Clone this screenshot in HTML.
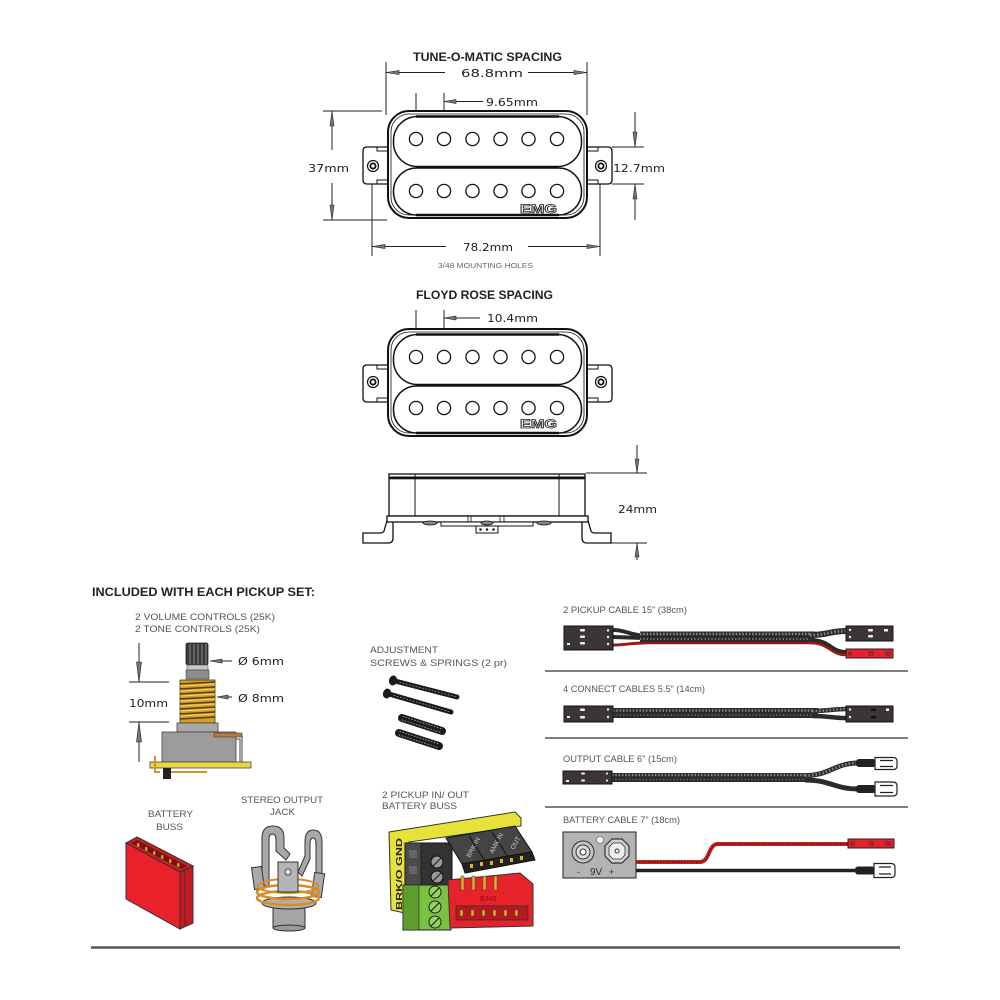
<!DOCTYPE html>
<html><head><meta charset="utf-8"><style>
html,body{margin:0;padding:0;background:#fff}
svg{display:block}
text{font-family:"Liberation Sans",sans-serif}
.d{font-family:"DejaVu Sans","Liberation Sans",sans-serif;font-size:11px;fill:#222}
.t{font-weight:bold;font-size:11.5px;fill:#222}
.s{font-size:9px;fill:#555}
.ln{stroke:#222;stroke-width:1;fill:none}
.ah{fill:#777;stroke:#222;stroke-width:.6}
</style></head><body>
<svg width="1000" height="1000" viewBox="0 0 1000 1000" xmlns="http://www.w3.org/2000/svg">
<rect width="1000" height="1000" fill="#fff"/>

<!-- ============ TUNE-O-MATIC ============ -->
<text x="413" y="61" class="t" textLength="149" lengthAdjust="spacingAndGlyphs">TUNE-O-MATIC SPACING</text>
<path class="ln" d="M386 62 V115 M587 62 V115 M386 72.5 H445 M528 72.5 H587"/>
<polygon class="ah" points="386,72.5 399,70.5 399,74.5"/>
<polygon class="ah" points="587,72.5 574,70.5 574,74.5"/>
<text x="461" y="77" class="d" textLength="62" lengthAdjust="spacingAndGlyphs">68.8mm</text>
<path class="ln" d="M416 93 V133 M444 93 V133 M444 101.5 H483"/>
<polygon class="ah" points="444,101.5 456,99.5 456,103.5"/>
<text x="486" y="106" class="d" textLength="52" lengthAdjust="spacingAndGlyphs">9.65mm</text>
<path class="ln" d="M323 111 H382 M323 220 H387 M332 111 V150 M332 183 V220"/>
<polygon class="ah" points="332,111 330,126 334,126"/>
<polygon class="ah" points="332,220 330,205 334,205"/>
<text x="308" y="172" class="d" textLength="41" lengthAdjust="spacingAndGlyphs">37mm</text>
<path class="ln" d="M612 147 H644 M612 184 H644 M635 112 V147 M635 184 V220"/>
<polygon class="ah" points="635,147 633,132 637,132"/>
<polygon class="ah" points="635,184 633,199 637,199"/>
<text x="613" y="172" class="d" textLength="52" lengthAdjust="spacingAndGlyphs">12.7mm</text>
<path class="ln" d="M372 172 V256 M600 172 V256 M372 246.5 H446 M528 246.5 H600"/>
<polygon class="ah" points="372,246.5 385,244.5 385,248.5"/>
<polygon class="ah" points="600,246.5 587,244.5 587,248.5"/>
<text x="463" y="251" class="d" textLength="50" lengthAdjust="spacingAndGlyphs">78.2mm</text>
<text x="438" y="268" font-size="7" fill="#666" textLength="95" lengthAdjust="spacingAndGlyphs">3/48 MOUNTING HOLES</text>

<g id="pk1">
<path d="M388 147 H367 Q363 147 363 151 V180 Q363 184 367 184 H388 Z" fill="#fff" stroke="#111" stroke-width="1.3"/>
<path d="M377 147 V151 H388 M377 184 V180 H388" fill="none" stroke="#111" stroke-width="1"/>
<path d="M587 147 H608 Q612 147 612 151 V180 Q612 184 608 184 H587 Z" fill="#fff" stroke="#111" stroke-width="1.3"/>
<path d="M598 147 V151 H587 M598 184 V180 H587" fill="none" stroke="#111" stroke-width="1"/>
<circle cx="373" cy="166" r="5.5" fill="#fff" stroke="#111" stroke-width="1.2"/>
<circle cx="373" cy="166" r="2.6" fill="none" stroke="#111" stroke-width="1.8"/>
<circle cx="601" cy="166" r="5.5" fill="#fff" stroke="#111" stroke-width="1.2"/>
<circle cx="601" cy="166" r="2.6" fill="none" stroke="#111" stroke-width="1.8"/>
<rect x="388" y="111" width="199" height="107" rx="21" fill="#fff" stroke="#111" stroke-width="2"/>
<rect x="391" y="114" width="193" height="101" rx="18" fill="none" stroke="#111" stroke-width="0.8"/>
<rect x="393.5" y="116.5" width="188" height="50" rx="24" fill="#fff" stroke="#111" stroke-width="1.5"/>
<rect x="393.5" y="168" width="188" height="47" rx="23" fill="#fff" stroke="#111" stroke-width="1.5"/>
<path d="M416 116.5 H559 M416 167.3 H559 M416 215 H559" stroke="#111" stroke-width="2.4"/>
<g fill="#fff" stroke="#111" stroke-width="1.3">
<circle cx="416" cy="139" r="6.6"/><circle cx="444" cy="139" r="6.6"/><circle cx="472.5" cy="139" r="6.6"/><circle cx="500.5" cy="139" r="6.6"/><circle cx="528.5" cy="139" r="6.6"/><circle cx="557" cy="139" r="6.6"/>
<circle cx="416" cy="191" r="6.6"/><circle cx="444" cy="191" r="6.6"/><circle cx="472.5" cy="191" r="6.6"/><circle cx="500.5" cy="191" r="6.6"/><circle cx="528.5" cy="191" r="6.6"/><circle cx="557" cy="191" r="6.6"/>
</g>
<text x="520" y="213" font-size="12" font-weight="bold" textLength="37" lengthAdjust="spacingAndGlyphs" fill="#fff" stroke="#222" stroke-width="0.8">EMG</text>
</g>

<!-- ============ FLOYD ROSE ============ -->
<text x="416" y="299" class="t" textLength="137" lengthAdjust="spacingAndGlyphs">FLOYD ROSE SPACING</text>
<path class="ln" d="M416 310 V350 M444 310 V350 M444 318 H480"/>
<polygon class="ah" points="444,318 456,316 456,320"/>
<text x="487" y="322" class="d" textLength="51" lengthAdjust="spacingAndGlyphs">10.4mm</text>

<g transform="translate(0,218)">
<path d="M388 147 H367 Q363 147 363 151 V180 Q363 184 367 184 H388 Z" fill="#fff" stroke="#111" stroke-width="1.3"/>
<path d="M377 147 V151 H388 M377 184 V180 H388" fill="none" stroke="#111" stroke-width="1"/>
<path d="M587 147 H608 Q612 147 612 151 V180 Q612 184 608 184 H587 Z" fill="#fff" stroke="#111" stroke-width="1.3"/>
<path d="M598 147 V151 H587 M598 184 V180 H587" fill="none" stroke="#111" stroke-width="1"/>
<circle cx="373" cy="164" r="5.5" fill="#fff" stroke="#111" stroke-width="1.2"/>
<circle cx="373" cy="164" r="2.6" fill="none" stroke="#111" stroke-width="1.8"/>
<circle cx="601" cy="164" r="5.5" fill="#fff" stroke="#111" stroke-width="1.2"/>
<circle cx="601" cy="164" r="2.6" fill="none" stroke="#111" stroke-width="1.8"/>
<rect x="388" y="111" width="199" height="107" rx="21" fill="#fff" stroke="#111" stroke-width="2"/>
<rect x="391" y="114" width="193" height="101" rx="18" fill="none" stroke="#111" stroke-width="0.8"/>
<rect x="393.5" y="116.5" width="188" height="50" rx="24" fill="#fff" stroke="#111" stroke-width="1.5"/>
<rect x="393.5" y="168" width="188" height="47" rx="23" fill="#fff" stroke="#111" stroke-width="1.5"/>
<path d="M416 116.5 H559 M416 167.3 H559 M416 215 H559" stroke="#111" stroke-width="2.4"/>
<g fill="#fff" stroke="#111" stroke-width="1.3">
<circle cx="416" cy="139" r="6.6"/><circle cx="444" cy="139" r="6.6"/><circle cx="472.5" cy="139" r="6.6"/><circle cx="500.5" cy="139" r="6.6"/><circle cx="528.5" cy="139" r="6.6"/><circle cx="557" cy="139" r="6.6"/>
<circle cx="416" cy="190" r="6.6"/><circle cx="444" cy="190" r="6.6"/><circle cx="472.5" cy="190" r="6.6"/><circle cx="500.5" cy="190" r="6.6"/><circle cx="528.5" cy="190" r="6.6"/><circle cx="557" cy="190" r="6.6"/>
</g>
<text x="520" y="210" font-size="12" font-weight="bold" textLength="37" lengthAdjust="spacingAndGlyphs" fill="#fff" stroke="#222" stroke-width="0.8">EMG</text>
</g>

<!-- side view -->
<rect x="389" y="474" width="196" height="42" fill="#fff" stroke="#111" stroke-width="1.3"/>
<rect x="389" y="476.5" width="196" height="2.8" fill="#111"/>
<path d="M415 474 V516 M559 474 V516" stroke="#111" stroke-width="1"/>
<path d="M388 517 L384 531 Q383 533 380 533 H363 V543 H388 Q393 543 393 538 V522 Z" fill="#fff" stroke="#111" stroke-width="1.3"/>
<path d="M587 517 L591 531 Q592 533 595 533 H611 V543 H587 Q582 543 582 538 V522 Z" fill="#fff" stroke="#111" stroke-width="1.3"/>
<rect x="387" y="516" width="201" height="6" fill="#fff" stroke="#111" stroke-width="1.3"/>
<path d="M468 516 V522 M471 516 V522 M500 516 V522 M504 516 V522" stroke="#111" stroke-width=".8"/>
<rect x="441" y="522" width="92" height="4" fill="#fff" stroke="#111" stroke-width="1"/>
<ellipse cx="430" cy="523" rx="7" ry="2" fill="#888" stroke="#111" stroke-width=".8"/>
<ellipse cx="544" cy="523" rx="7" ry="2" fill="#888" stroke="#111" stroke-width=".8"/>
<ellipse cx="487" cy="523" rx="6" ry="2" fill="#888" stroke="#111" stroke-width=".8"/>
<rect x="476" y="526" width="22" height="7" fill="#fff" stroke="#111" stroke-width="1"/>
<circle cx="480.5" cy="529.5" r="1.3" fill="#222"/><circle cx="487" cy="529.5" r="1.3" fill="#222"/><circle cx="493.5" cy="529.5" r="1.3" fill="#222"/>
<path class="ln" d="M637 445 V473 M586 473 H647 M611 543 H647 M637 543 V560"/>
<polygon class="ah" points="637,473 635,459 639,459"/>
<polygon class="ah" points="637,543 635,557 639,557"/>
<text x="618" y="513" class="d" textLength="39" lengthAdjust="spacingAndGlyphs">24mm</text>

<!-- ============ INCLUDED ============ -->
<text x="92" y="596" class="t" textLength="223" lengthAdjust="spacingAndGlyphs">INCLUDED WITH EACH PICKUP SET:</text>
<text x="135" y="620" class="s" font-size="9.5" textLength="140" lengthAdjust="spacingAndGlyphs">2 VOLUME CONTROLS (25K)</text>
<text x="135" y="632" class="s" font-size="9.5" textLength="125" lengthAdjust="spacingAndGlyphs">2 TONE CONTROLS (25K)</text>

<!-- pot -->
<path class="ln" d="M129 682 H169 M129 722 H169 M139 643 V682 M139 722 V762"/>
<polygon class="ah" points="139,682 136.5,662 141.5,662"/>
<polygon class="ah" points="139,722 136.5,742 141.5,742"/>
<text x="129" y="707" class="d" textLength="39" lengthAdjust="spacingAndGlyphs">10mm</text>
<rect x="186" y="643" width="22" height="22" rx="2" fill="#3a3a3a" stroke="#222" stroke-width=".8"/>
<path d="M190 644 V664 M194 644 V664 M198 644 V664 M202 644 V664 M206 644 V664" stroke="#8a8a8a" stroke-width="1"/>
<rect x="187" y="665" width="21" height="5" fill="#c8c8c8" stroke="#555" stroke-width=".6"/>
<rect x="186" y="670" width="23" height="9" fill="#8e8e8e" stroke="#444" stroke-width=".6"/>
<rect x="180" y="680" width="35" height="43" fill="#d3a12a" stroke="#4a3510" stroke-width=".8"/>
<path d="M180 684 L215 682 M180 689 L215 687 M180 694 L215 692 M180 699 L215 697 M180 704 L215 702 M180 709 L215 707 M180 714 L215 712 M180 719 L215 717" stroke="#5a3e0a" stroke-width="1.4"/>
<path d="M180 686 L215 684 M180 691 L215 689 M180 696 L215 694 M180 701 L215 699 M180 706 L215 704 M180 711 L215 709 M180 716 L215 714" stroke="#f3d56a" stroke-width=".9"/>
<rect x="177" y="723" width="41" height="9" fill="#a8a8a8" stroke="#444" stroke-width=".8"/>
<rect x="162" y="732" width="74" height="30" fill="#9c9c9c" stroke="#444" stroke-width=".8"/>
<rect x="214" y="733" width="28" height="4" fill="#b57a3c" stroke="#5a3a1a" stroke-width=".6"/>
<path d="M242 735 V762 M236 739 H240 V762" stroke="#444" stroke-width="1" fill="none"/>
<rect x="150" y="762" width="101" height="6" fill="#e8d640" stroke="#444" stroke-width=".8"/>
<path d="M155 756 V772 H160" stroke="#c89a20" stroke-width="2" fill="none"/>
<rect x="163" y="768" width="8" height="11" fill="#222"/>
<path d="M171 772 H207" stroke="#c89a20" stroke-width="2"/>
<path class="ln" d="M210 661 H232 M217 697 H232"/>
<polygon class="ah" points="210,661 222,659 222,663"/>
<polygon class="ah" points="217,697 228,695 228,699"/>
<text x="238" y="665" class="d" textLength="46" lengthAdjust="spacingAndGlyphs">Ø 6mm</text>
<text x="238" y="702" class="d" textLength="46" lengthAdjust="spacingAndGlyphs">Ø 8mm</text>

<!-- screws & springs -->
<text x="370" y="653" class="s" font-size="9.5" textLength="68" lengthAdjust="spacingAndGlyphs">ADJUSTMENT</text>
<text x="370" y="666" class="s" font-size="9.5" textLength="137" lengthAdjust="spacingAndGlyphs">SCREWS &amp; SPRINGS (2 pr)</text>
<g stroke-linecap="round">
<path d="M395 681 L457 697" stroke="#1a1a1a" stroke-width="5"/>
<path d="M400 682.5 L455 696.5" stroke="#bbb" stroke-width="1" stroke-dasharray="0.8 2.5" opacity=".7"/>
<ellipse cx="393" cy="680.5" rx="4" ry="5" fill="#1a1a1a" transform="rotate(14 393 680.5)"/>
<path d="M389 694 L451 712" stroke="#1a1a1a" stroke-width="5"/>
<path d="M394 695.5 L449 711.5" stroke="#bbb" stroke-width="1" stroke-dasharray="0.8 2.5" opacity=".7"/>
<ellipse cx="387" cy="693.5" rx="4" ry="5" fill="#1a1a1a" transform="rotate(16 387 693.5)"/>
<path d="M402 718 L442 731" stroke="#1a1a1a" stroke-width="8"/>
<path d="M403 716.5 L442 729" stroke="#ccc" stroke-width="1" stroke-dasharray="0.8 2.2" opacity=".7"/>
<path d="M402 720 L441 732.5" stroke="#ccc" stroke-width="1" stroke-dasharray="0.8 2.2" opacity=".7"/>
<path d="M399 733 L439 746" stroke="#1a1a1a" stroke-width="8"/>
<path d="M400 731.5 L439 744" stroke="#ccc" stroke-width="1" stroke-dasharray="0.8 2.2" opacity=".7"/>
<path d="M399 735 L438 747.5" stroke="#ccc" stroke-width="1" stroke-dasharray="0.8 2.2" opacity=".7"/>
</g>

<!-- battery buss -->
<text x="148" y="817" class="s" font-size="9.5" textLength="45" lengthAdjust="spacingAndGlyphs">BATTERY</text>
<text x="156" y="830" class="s" font-size="9.5" textLength="27" lengthAdjust="spacingAndGlyphs">BUSS</text>
<polygon points="126,843 180,872 180,929 126,899" fill="#e9212b" stroke="#333" stroke-width="1"/>
<polygon points="180,872 193,866 193,923 180,929" fill="#c61a22" stroke="#333" stroke-width="1"/>
<polygon points="126,843 137,837 193,866 180,872" fill="#d01d25" stroke="#333" stroke-width="1"/>
<polygon points="131,843 137,840 187,866 181,869" fill="#7a1010"/>
<g fill="#d9b23a" stroke="#5a4210" stroke-width=".5">
<rect x="137" y="843" width="2.5" height="4"/><rect x="145" y="847" width="2.5" height="4"/><rect x="153" y="851" width="2.5" height="4"/><rect x="161" y="855" width="2.5" height="4"/><rect x="169" y="859" width="2.5" height="4"/><rect x="177" y="863" width="2.5" height="4"/>
</g>
<path d="M185 869 V926" stroke="#333" stroke-width=".8"/>

<!-- jack -->
<text x="241" y="803" class="s" font-size="9.5" textLength="82" lengthAdjust="spacingAndGlyphs">STEREO OUTPUT</text>
<text x="270" y="815" class="s" font-size="9.5" textLength="25" lengthAdjust="spacingAndGlyphs">JACK</text>
<g stroke="#333" stroke-width="1">
<rect x="273" y="904" width="32" height="24" fill="#a5a5a5"/>
<ellipse cx="289" cy="928" rx="16" ry="3" fill="#999"/>
<ellipse cx="289" cy="903" rx="27" ry="6" fill="#b0b0b0"/>
<path d="M262 886 V838 Q262 826 273 826 Q284 826 284 838 V848 L290 854 L286 860 L276 851 V840 Q276 834 272 834 Q269 834 269 840 V886 Z" fill="#a8a8a8"/>
<path d="M298 872 L305 856 V842 Q305 830 313 830 Q322 830 322 842 V884 L316 884 V844 Q316 838 313 838 Q310 838 310 844 V859 L302 876 Z" fill="#a8a8a8"/>
<rect x="253" y="867" width="10" height="22" fill="#aaa" transform="rotate(-8 258 878)"/>
<rect x="313" y="873" width="10" height="24" fill="#aaa" transform="rotate(8 318 885)"/>
<ellipse cx="288" cy="898" rx="31" ry="7" fill="none" stroke="#d98c26" stroke-width="2.5"/>
<ellipse cx="288" cy="892" rx="31" ry="7" fill="none" stroke="#d98c26" stroke-width="2.5"/>
<ellipse cx="288" cy="886" rx="30" ry="7" fill="none" stroke="#d98c26" stroke-width="2"/>
<rect x="278" y="862" width="20" height="30" fill="#b5b5b5"/>
<circle cx="288" cy="872" r="3" fill="#fff"/>
</g>

<!-- 2 pickup in/out buss -->
<text x="382" y="798" class="s" font-size="9.5" textLength="87" lengthAdjust="spacingAndGlyphs">2 PICKUP IN/ OUT</text>
<text x="382" y="809" class="s" font-size="9.5" textLength="75" lengthAdjust="spacingAndGlyphs">BATTERY BUSS</text>
<polygon points="389,832 515,812 521,818 521,826 409,842 409,914 391,910" fill="#e6e23a" stroke="#333" stroke-width="1"/>
<text transform="translate(402,910) rotate(-90)" font-size="8" font-weight="bold" fill="#222" textLength="72" lengthAdjust="spacingAndGlyphs">BRK/O  GND</text>
<rect x="405" y="843" width="47" height="42" fill="#333" stroke="#111"/>
<rect x="405" y="843" width="16" height="42" fill="#4a4a4a" stroke="#111" stroke-width=".6"/>
<rect x="409" y="850" width="8" height="8" fill="#666"/><rect x="409" y="866" width="8" height="8" fill="#666"/>
<circle cx="437" cy="862" r="6" fill="#999" stroke="#111"/><circle cx="437" cy="877" r="6" fill="#999" stroke="#111"/>
<path d="M433 866 L441 858 M433 881 L441 873" stroke="#222" stroke-width="1.2"/>
<rect x="403" y="885" width="48" height="45" fill="#7cc242" stroke="#222"/>
<rect x="403" y="885" width="16" height="45" fill="#5e9e2e" stroke="#222" stroke-width=".6"/>
<circle cx="435" cy="892" r="6" fill="#93d45c" stroke="#222"/><circle cx="435" cy="907" r="6" fill="#93d45c" stroke="#222"/><circle cx="435" cy="922" r="6" fill="#93d45c" stroke="#222"/>
<path d="M431 896 L439 888 M431 911 L439 903 M431 926 L439 918" stroke="#222" stroke-width="1.2"/>
<polygon points="448,880 520,873 533,884 533,926 450,928" fill="#e6222b" stroke="#333"/>
<rect x="456" y="906" width="72" height="14" fill="#b81820" stroke="#333" stroke-width=".8"/>
<g fill="#d9b23a" stroke="#5a4210" stroke-width=".5">
<rect x="460" y="910" width="3" height="6"/><rect x="471" y="910" width="3" height="6"/><rect x="482" y="910" width="3" height="6"/><rect x="493" y="910" width="3" height="6"/><rect x="504" y="910" width="3" height="6"/><rect x="515" y="910" width="3" height="6"/>
<rect x="461" y="876" width="3" height="14"/><rect x="472" y="876" width="3" height="14"/><rect x="483" y="876" width="3" height="14"/><rect x="494" y="876" width="3" height="14"/>
</g>
<text x="480" y="901" font-size="7" fill="#8a1010">B245</text>
<polygon points="446,838 515,826 532,852 462,864" fill="#444" stroke="#111"/>
<polygon points="462,864 532,852 535,860 465,873" fill="#222" stroke="#111"/>
<path d="M469 836 L485 861 M492 832 L508 857" stroke="#111" stroke-width="1"/>
<g fill="#d9b23a"><rect x="470" y="864" width="3" height="4"/><rect x="480" y="862" width="3" height="4"/><rect x="490" y="861" width="3" height="4"/><rect x="500" y="859" width="3" height="4"/><rect x="510" y="858" width="3" height="4"/><rect x="520" y="856" width="3" height="4"/></g>
<text transform="translate(470,858) rotate(-62)" font-size="6.5" fill="#ccc">BRK IN</text>
<text transform="translate(493,854) rotate(-62)" font-size="6.5" fill="#ccc">AMK IN</text>
<text transform="translate(514,850) rotate(-62)" font-size="6.5" fill="#ccc">OUT</text>

<!-- ============ CABLES ============ -->
<text x="563" y="613" class="s" font-size="8.5" textLength="124" lengthAdjust="spacingAndGlyphs">2 PICKUP CABLE 15” (38cm)</text>
<g fill="none">
<path d="M613 630 C626 630 630 635 645 636" stroke="#2b2b2b" stroke-width="4"/>
<path d="M613 637 L645 638" stroke="#2b2b2b" stroke-width="4"/>
<path d="M613 645 C626 645 630 643 645 643" stroke="#9a1818" stroke-width="3"/>
<path d="M640 637.5 L815 637.5" stroke="#2b2b2b" stroke-width="12"/>
<path d="M640 634 L815 634" stroke="#a0a0a0" stroke-width="2.5" stroke-dasharray="1.5 1.8" opacity=".8"/>
<path d="M640 639 L815 639" stroke="#a0a0a0" stroke-width="2" stroke-dasharray="1.2 2.2" opacity=".7"/>
<path d="M640 643 L815 643" stroke="#8a1a1a" stroke-width="2.5"/>
<path d="M810 635 C828 635 830 631 846 631" stroke="#2b2b2b" stroke-width="6"/>
<path d="M810 635 C828 635 830 631 846 631" stroke="#aaa" stroke-width="3" stroke-dasharray="1.5 2" opacity=".7"/>
<path d="M810 641 C830 641 830 653 846 653" stroke="#2b2b2b" stroke-width="6"/>
<path d="M810 643 C830 643 830 655 846 655" stroke="#a01818" stroke-width="2.5"/>
</g>
<rect x="564" y="626" width="49" height="24" fill="#3b3536" stroke="#111"/>
<g fill="#eee"><rect x="580" y="629" width="5" height="2.5" rx="1"/><rect x="580" y="635.5" width="5" height="2.5" rx="1"/><rect x="580" y="642" width="5" height="2.5" rx="1"/><circle cx="608" cy="630.5" r="1.2"/><circle cx="608" cy="637" r="1.2"/><circle cx="608" cy="644" r="1.2"/><rect x="567" y="643" width="3" height="2"/></g>
<rect x="846" y="626" width="47" height="15" fill="#3b3536" stroke="#111"/>
<g fill="#eee"><circle cx="850" cy="630" r="1.2"/><circle cx="850" cy="637" r="1.2"/><rect x="868" y="629" width="5" height="2.5" rx="1"/><rect x="868" y="635" width="5" height="2.5" rx="1"/><rect x="884" y="629" width="4" height="2.5"/></g>
<rect x="846" y="649" width="47" height="9" fill="#e3222b" stroke="#222"/>
<g fill="none" stroke="#333" stroke-width=".8"><circle cx="850" cy="653.5" r="1.3"/><rect x="869" y="652" width="4" height="3"/><rect x="886" y="652" width="4" height="3"/></g>
<path d="M545 671 H908" stroke="#555" stroke-width="1.5"/>

<text x="563" y="692" class="s" font-size="8.5" textLength="142" lengthAdjust="spacingAndGlyphs">4 CONNECT CABLES 5.5” (14cm)</text>
<g fill="none">
<path d="M613 713 L818 713" stroke="#2b2b2b" stroke-width="10"/>
<path d="M613 710.5 L818 710.5" stroke="#a0a0a0" stroke-width="2.5" stroke-dasharray="1.5 1.8" opacity=".8"/>
<path d="M613 715 L818 715" stroke="#a0a0a0" stroke-width="1.5" stroke-dasharray="1.2 2.2" opacity=".6"/>
<path d="M812 711 C830 711 832 709 846 709" stroke="#2b2b2b" stroke-width="4.5"/>
<path d="M812 716 C830 716 832 718 846 718" stroke="#2b2b2b" stroke-width="4.5"/>
<path d="M812 711 C830 711 832 709 846 709" stroke="#aaa" stroke-width="2.5" stroke-dasharray="1.5 2" opacity=".7"/>
</g>
<rect x="564" y="706" width="49" height="16" fill="#3b3536" stroke="#111"/>
<g fill="#eee"><rect x="580" y="708.5" width="5" height="2.5" rx="1"/><rect x="580" y="716" width="5" height="2.5" rx="1"/><circle cx="608" cy="709.5" r="1.2"/><circle cx="608" cy="717" r="1.2"/><rect x="567" y="716" width="3" height="2"/></g>
<rect x="846" y="706" width="47" height="16" fill="#3b3536" stroke="#111"/>
<g fill="#eee"><circle cx="850" cy="709.5" r="1.2"/><circle cx="850" cy="717" r="1.2"/><rect x="886" y="708.5" width="3" height="2.5"/></g>
<g fill="#111"><rect x="871" y="708.5" width="5" height="2.5"/><rect x="871" y="716" width="5" height="2.5"/></g>
<path d="M545 738 H908" stroke="#555" stroke-width="1.5"/>

<text x="563" y="762" class="s" font-size="8.5" textLength="114" lengthAdjust="spacingAndGlyphs">OUTPUT CABLE 6” (15cm)</text>
<g fill="none">
<path d="M612 777.5 L812 777.5" stroke="#2b2b2b" stroke-width="9"/>
<path d="M612 775 L812 775" stroke="#a0a0a0" stroke-width="2.5" stroke-dasharray="1.5 1.8" opacity=".8"/>
<path d="M612 779.5 L812 779.5" stroke="#a0a0a0" stroke-width="1.5" stroke-dasharray="1.2 2.2" opacity=".6"/>
<path d="M805 775.5 C830 775.5 835 763 858 763" stroke="#2b2b2b" stroke-width="5"/>
<path d="M805 775.5 C830 775.5 835 763 858 763" stroke="#aaa" stroke-width="3" stroke-dasharray="1.5 2" opacity=".7"/>
<path d="M805 780 C830 780 835 789 858 789" stroke="#2b2b2b" stroke-width="5"/>
</g>
<rect x="563" y="771" width="49" height="13" fill="#3b3536" stroke="#111"/>
<g fill="#eee"><rect x="581" y="772.5" width="4" height="2" rx="1"/><rect x="581" y="779.5" width="4" height="2" rx="1"/><circle cx="607" cy="773.5" r="1.1"/><circle cx="607" cy="780.5" r="1.1"/><rect x="566" y="780" width="3" height="2"/></g>
<rect x="856" y="759" width="20" height="8" rx="3" fill="#222"/>
<path d="M875 757.5 H893 Q897 757.5 897 761 V766 Q897 769.5 893 769.5 H875 Z M880 760.5 H893 M880 766.5 H893" fill="#fff" stroke="#222" stroke-width="1.2"/>
<rect x="856" y="785" width="20" height="8" rx="3" fill="#222"/>
<path d="M875 782 H893 Q897 782 897 786 V792 Q897 796 893 796 H875 Z M880 785.5 H893 M880 792.5 H893" fill="#fff" stroke="#222" stroke-width="1.2"/>
<path d="M545 807 H908" stroke="#555" stroke-width="1.5"/>

<text x="563" y="823" class="s" font-size="8.5" textLength="117" lengthAdjust="spacingAndGlyphs">BATTERY CABLE 7” (18cm)</text>
<rect x="563" y="832" width="73" height="46" fill="#b3b3b3" stroke="#222" stroke-width="1"/>
<circle cx="583" cy="852" r="11" fill="#c4c4c4" stroke="#333"/>
<circle cx="583" cy="852" r="7" fill="#ddd" stroke="#333"/>
<circle cx="583" cy="852" r="3" fill="#fff" stroke="#333"/>
<polygon points="612,839 622,839 629,846 629,856 622,863 612,863 605,856 605,846" fill="#d0d0d0" stroke="#333" stroke-width="1.2"/>
<polygon points="613,843 621,843 625,847 625,855 621,859 613,859 609,855 609,847" fill="#eee" stroke="#333" stroke-width=".8"/>
<circle cx="617" cy="851" r="2" fill="#fff" stroke="#333"/>
<circle cx="600" cy="840" r="3.5" fill="#fff" stroke="#888"/>
<text x="577" y="875" font-size="9" fill="#333">-</text>
<text x="590" y="875" font-size="10" fill="#333">9V</text>
<text x="609" y="875" font-size="9" fill="#333">+</text>
<path d="M636 862 L700 862 C710 862 708 844 718 844 L849 844" fill="none" stroke="#c42222" stroke-width="4"/>
<path d="M636 862 L700 862 C710 862 708 844 718 844 L849 844" fill="none" stroke="#6a0e0e" stroke-width="1.5" stroke-dasharray="1.5 1.5"/>
<rect x="848" y="839" width="46" height="9" fill="#e3222b" stroke="#222"/>
<g fill="none" stroke="#333" stroke-width=".8"><rect x="851" y="842" width="3" height="3"/><rect x="870" y="842" width="3" height="3"/><rect x="886" y="842" width="4" height="3"/></g>
<path d="M636 870.5 L857 870.5" stroke="#222" stroke-width="3.5"/>
<rect x="855" y="866.5" width="20" height="8" rx="3" fill="#222"/>
<path d="M874 863.5 H891 Q895 863.5 895 867 V874 Q895 877.5 891 877.5 H874 Z M879 867 H891 M879 874 H891" fill="#fff" stroke="#222" stroke-width="1.2"/>

<!-- bottom rule -->
<path d="M91 947.5 H900" stroke="#555" stroke-width="2.5"/>
</svg>
</body></html>
